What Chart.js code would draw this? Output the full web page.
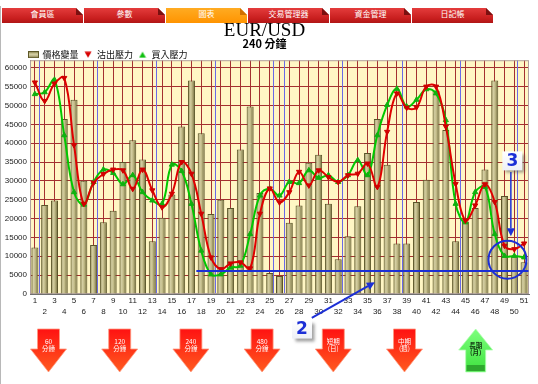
<!DOCTYPE html>
<html>
<head>
<meta charset="utf-8">
<script src="https://cdn.jsdelivr.net/npm/chart.js@4.4.1/dist/chart.umd.min.js"></script>
<style>
html,body{margin:0;padding:0;background:#fff;width:538px;height:384px;overflow:hidden;}
#wrap{position:relative;width:538px;height:384px;}
#c{position:absolute;left:0;top:0;}
#edge{position:absolute;left:0;top:6px;width:1px;height:378px;background:#b8b8b8;}
.tabs{position:absolute;top:8px;left:2px;height:15px;display:flex;}
.tab{position:relative;width:81px;margin-right:1px;height:15px;line-height:15px;text-align:center;color:#fff;
 font:8px "Noto Sans CJK TC","Noto Sans CJK SC",sans-serif;background:linear-gradient(#e43c3c,#c81e1e 70%,#b01616);
 clip-path:polygon(0 0,calc(100% - 7px) 0,100% 7px,100% 100%,0 100%);}
.tab::after{content:"";position:absolute;right:0;top:0;width:7px;height:7px;background:#7a1010;}
.tab.on{background:linear-gradient(#ffab22,#ff9400);}
.tab.on::after{background:#d07000;}
#arrows{position:absolute;left:0;top:320px;}
</style>
</head>
<body>
<div id="wrap">
<canvas id="c" width="538" height="384"></canvas>
<div id="edge"></div>
<div class="tabs">
<div class="tab">會員區</div><div class="tab">參數</div><div class="tab on">圖表</div><div class="tab">交易管理器</div><div class="tab">資金管理</div><div class="tab">日記帳</div>
</div>
<svg id="arrows" width="538" height="64" xmlns="http://www.w3.org/2000/svg"></svg>
</div>
<script>
// ---------- data ----------
const categories = ['1','2','3','4','5','6','7','8','9','10','11','12','13','14','15','16','17','18','19','20',
 '21','22','23','24','25','26','27','28','29','30','31','32','33','34','35','36','37','38','39','40',
 '41','42','43','44','45','46','47','48','49','50','51'];

const priceVolume = [12300,23600,24800,46400,51500,30000,13000,19000,22100,35000,
 40800,35700,14000,20200,26400,44400,56600,42600,21200,25000,
 22800,38300,49700,26800,5600,4800,18900,23500,34800,36900,
 23900,9200,15300,23300,37400,46400,34300,13400,13400,24400,
 30300,53900,43500,14000,19200,22800,33000,56600,26000,10000,8400];

const sellPressure = [56100,51200,55800,57300,39500,23900,29500,31800,33000,32800,
 27900,33000,27500,23000,26600,35000,31900,21300,9700,6600,
 8100,8400,6800,21300,28000,24300,27000,32400,28800,32800,
 31000,29700,31500,31900,34600,28400,43000,53200,49400,49500,
 55000,55000,44400,29200,19500,23500,29100,24400,12800,11900,13400];

const buyPressure = [53000,53500,56800,42100,27000,23700,29700,33000,32100,29100,
 31500,27000,24800,23900,34300,32600,23900,11500,5200,5200,
 7000,7500,15900,26100,27900,26100,29700,29400,32800,30800,
 31500,29700,31500,35500,31500,42100,50100,54400,49700,51500,
 54300,53200,46100,23900,19000,27000,28400,15900,10100,10100,9700];

const yTickValues = [0,5000,10000,15000,20000,25000,30000,35000,40000,45000,50000,55000,60000];
const seriesNames = ['價格變量','沽出壓力','買入壓力'];
const chartTitle = 'EUR/USD';
const chartSubtitle = '240 分鐘';
const dayMarks = [1.4,7.35,13.35,19.4,25.3,26.5,32.4,38.5,44.4,50.3];
const periodLabels = [['60','分鐘'],['120','分鐘'],['240','分鐘'],['480','分鐘'],['短期','(日)'],['中期','(週)'],['長期','(月)']];
const periodTrend = ['down','down','down','down','down','down','up'];

// annotation anchors (category position, value)
const supportLine = {from:17.5, to:51.45, value:6100};
const circleMark = {at:49.3, value:9100, r:19};
const label3 = {at:49.8, value:35300, text:'3', tipValue:15300};
const label2 = {at:28.3, value:-9300, text:'2', tailAt:29.3, tailValue:-6300, tipAt:35.75, tipValue:3100};

// ---------- helpers ----------
const CJK = '"Noto Sans CJK TC","Noto Sans CJK SC",sans-serif';
function icon(w,h,draw){const cv=document.createElement('canvas');cv.width=w;cv.height=h;draw(cv.getContext('2d'),w,h);return cv;}
const barIcon = icon(11,7,(g,w,h)=>{const gr=g.createLinearGradient(0,0,0,h);gr.addColorStop(0,'#a39c62');gr.addColorStop(0.5,'#d6d0a6');gr.addColorStop(1,'#7b743f');g.fillStyle=gr;g.fillRect(0,0,w,h);g.strokeStyle='#5e5828';g.strokeRect(0.5,0.5,w-1,h-1);});
const downIcon = icon(8,7,(g)=>{g.fillStyle='#d80000';g.beginPath();g.moveTo(0.5,0.5);g.lineTo(7.5,0.5);g.lineTo(4,6.5);g.closePath();g.fill();});
const upIcon = icon(8,7,(g)=>{g.fillStyle='#10c010';g.beginPath();g.moveTo(4,0.5);g.lineTo(7.5,6.5);g.lineTo(0.5,6.5);g.closePath();g.fill();});
const legendIcons=[barIcon,downIcon,upIcon];

const bgPlugin = {
 id:'bgPlugin',
 beforeLayout(chart){const lg=chart.legend;if(lg&&!lg.__trim){const f=lg.fit;lg.fit=function(){f.call(this);if(this.isHorizontal())this.height=Math.max(0,this.height-9);};lg.__trim=true;}},
 afterLayout(chart){if(chart.legend){chart.legend.left=24;}},
 beforeDraw(chart){const {ctx,chartArea:a}=chart;ctx.save();ctx.fillStyle='#fff6c4';ctx.fillRect(a.left,a.top,a.right-a.left,a.bottom-a.top);ctx.restore();},
 beforeDatasetsDraw(chart){
  const {ctx,chartArea:a,scales:{x}}=chart;const step=x.getPixelForValue(1)-x.getPixelForValue(0);
  ctx.save();ctx.strokeStyle='#6a6ae6';ctx.lineWidth=1;
  dayMarks.forEach(m=>{const px=Math.round(x.getPixelForValue(0)+(m-1)*step)+0.5;ctx.beginPath();ctx.moveTo(px,a.top);ctx.lineTo(px,a.bottom);ctx.stroke();});
  ctx.strokeStyle='#b0a0a0';ctx.strokeRect(a.left+0.5,a.top+0.5,a.right-a.left-1,a.bottom-a.top-1);
  ctx.restore();
 },
 afterDraw(chart){
  const {ctx:c,scales:{x,y}}=chart;const step=x.getPixelForValue(1)-x.getPixelForValue(0);
  const px=v=>x.getPixelForValue(0)+(v-1)*step, py=v=>y.getPixelForValue(v);
  const blue='#1c2fd6';
  c.save();
  c.strokeStyle=blue;c.fillStyle=blue;c.lineWidth=2;
  c.beginPath();c.moveTo(px(supportLine.from),py(supportLine.value));c.lineTo(px(supportLine.to),py(supportLine.value));c.stroke();
  c.beginPath();c.arc(px(circleMark.at),py(circleMark.value),circleMark.r,0,Math.PI*2);c.stroke();
  function arrow(x1,y1,x2,y2){const ang=Math.atan2(y2-y1,x2-x1);const L=8,W=4;const bx=x2-L*Math.cos(ang),by=y2-L*Math.sin(ang);
   c.beginPath();c.moveTo(x1,y1);c.lineTo(bx,by);c.stroke();
   c.beginPath();c.moveTo(x2,y2);c.lineTo(bx+W*Math.sin(ang),by-W*Math.cos(ang));c.lineTo(bx-W*Math.sin(ang),by+W*Math.cos(ang));c.closePath();c.fill();}
  function box(cx,cy,t){const w=20,h=19;c.save();c.shadowColor='rgba(80,80,80,0.55)';c.shadowOffsetX=3;c.shadowOffsetY=3;c.shadowBlur=3;
   const g=c.createLinearGradient(0,cy-h/2,0,cy+h/2);g.addColorStop(0,'#ffffff');g.addColorStop(1,'#eef0f6');c.fillStyle=g;c.fillRect(cx-w/2,cy-h/2,w,h);c.restore();
   c.fillStyle=blue;c.font='bold 17px "DejaVu Sans",sans-serif';c.textAlign='center';c.textBaseline='middle';c.fillText(t,cx,cy+1);}
  const x3=px(label3.at),y3=py(label3.value);
  c.lineWidth=1.5;arrow(x3-1.5,y3+11,x3-1.5,py(label3.tipValue));
  box(x3,y3,label3.text);
  c.strokeStyle=blue;c.fillStyle=blue;c.lineWidth=2;
  arrow(px(label2.tailAt),py(label2.tailValue),px(label2.tipAt),py(label2.tipValue));
  box(px(label2.at),py(label2.value),label2.text);
  c.restore();
 }
};

const ctx=document.getElementById('c').getContext('2d');
const chart=new Chart(ctx,{
 type:'bar',
 data:{labels:categories,datasets:[
  {type:'bar',label:seriesNames[0],data:priceVolume,order:2,
   backgroundColor(cx){const ch=cx.chart;const xs=ch.scales&&ch.scales.x;if(!ch.chartArea||!xs)return '#bdb682';
    const cxp=xs.getPixelForValue(cx.dataIndex);const w=(xs.getPixelForValue(1)-xs.getPixelForValue(0))*0.36;
    const g=ch.ctx.createLinearGradient(cxp-w,0,cxp+w,0);g.addColorStop(0,'#6f6935');g.addColorStop(0.3,'#d4cea2');g.addColorStop(0.55,'#c2bb88');g.addColorStop(1,'#666032');return g;},
   borderColor:'#5a5428',borderWidth:1,barPercentage:0.72,categoryPercentage:1},
  {type:'line',label:seriesNames[1],data:sellPressure,order:0,borderColor:'#e00000',borderWidth:2,tension:0.4,
   pointStyle:'triangle',rotation:180,pointRadius:3,pointBackgroundColor:'#d00000',pointBorderColor:'#d00000',pointBorderWidth:1},
  {type:'line',label:seriesNames[2],data:buyPressure,order:1,borderColor:'#00c800',borderWidth:2,tension:0.4,
   pointStyle:'triangle',pointRadius:3,pointBackgroundColor:'#10b010',pointBorderColor:'#10b010',pointBorderWidth:1}
 ]},
 options:{
  responsive:false,animation:false,devicePixelRatio:1,
  layout:{padding:{top:23,left:0,right:9,bottom:65}},
  plugins:{
   title:{display:true,text:chartTitle,color:'#000',font:{family:'"Liberation Serif",serif',size:19,weight:'normal',lineHeight:0.8},padding:{top:0,bottom:0}},
   subtitle:{display:true,text:chartSubtitle,color:'#000',font:{family:CJK,size:11,weight:'bold',lineHeight:1},padding:{top:0,bottom:-4}},
   legend:{align:'start',labels:{usePointStyle:true,padding:5,color:'#111',font:{family:CJK,size:9},
    sort:(a,b)=>a.datasetIndex-b.datasetIndex,
    generateLabels(ch){return Chart.defaults.plugins.legend.labels.generateLabels(ch).map(it=>{it.pointStyle=legendIcons[it.datasetIndex];it.rotation=0;return it;});}}},
   tooltip:{enabled:false}
  },
  scales:{
   x:{grid:{offset:false,color:'#a33030',lineWidth:1,drawTicks:false},border:{color:'#707070'},
    ticks:{autoSkip:false,maxRotation:0,minRotation:0,padding:1,color:'#222',font:{family:'"Liberation Sans",sans-serif',size:8,lineHeight:1.38},
     callback(v,i){return i%2===0?categories[i]:['',categories[i]];}},
    afterFit(s){s.height=25;}},
   y:{min:0,max:62000,grid:{color:'#a33030',lineWidth:1,drawTicks:false},border:{color:'#707070'},
    ticks:{stepSize:5000,padding:3,color:'#222',font:{family:'"Liberation Sans",sans-serif',size:8},callback:v=>String(v)},
    afterBuildTicks(s){s.ticks=yTickValues.map(v=>({value:v}));},
    afterFit(s){s.width=30;}}
  }
 },
 plugins:[bgPlugin]
});

// ---------- period arrows (HTML/SVG) ----------
const svg=document.getElementById('arrows');
let html='<defs><linearGradient id="rg" x1="0" y1="0" x2="0" y2="1"><stop offset="0" stop-color="#ff1212"/><stop offset="1" stop-color="#ff5a1e"/></linearGradient>'+
 '<linearGradient id="gg" x1="0" y1="0" x2="0" y2="1"><stop offset="0" stop-color="#7dff7d"/><stop offset="1" stop-color="#3ee23e"/></linearGradient></defs>';
const top0=320;
periodLabels.forEach((lab,i)=>{
 const cx=48.5+i*71.2;const y=v=>v-top0;
 if(periodTrend[i]==='down'){
  html+=`<path d="M${cx-11},${y(329)} H${cx+11} V${y(349)} H${cx+18} L${cx},${y(372)} L${cx-18},${y(349)} H${cx-11} Z" fill="url(#rg)" stroke="#ff9a80" stroke-width="0.8"/>`;
  html+=`<text x="${cx}" y="${y(343.8)}" font-size="6.5" fill="#fff" text-anchor="middle" font-family='Noto Sans CJK TC'>${lab[0]}</text>`;
  html+=`<text x="${cx}" y="${y(350.5)}" font-size="6.5" fill="#fff" text-anchor="middle" font-family='Noto Sans CJK TC'>${lab[1]}</text>`;
 }else{
  html+=`<path d="M${cx},${y(329)} L${cx+17},${y(350)} H${cx+10} V${y(372)} H${cx-10} V${y(350)} H${cx-17} Z" fill="url(#gg)" stroke="#b0ffb0" stroke-width="0.8"/>`;
  html+=`<rect x="${cx-9}" y="${y(365)}" width="18" height="6" fill="#2ea82e"/>`;
  html+=`<text x="${cx}" y="${y(347.5)}" font-size="6.5" fill="#113311" text-anchor="middle" font-family='Noto Sans CJK TC' font-weight="bold">${lab[0]}</text>`;
  html+=`<text x="${cx}" y="${y(354.5)}" font-size="6.5" fill="#113311" text-anchor="middle" font-family='Noto Sans CJK TC' font-weight="bold">${lab[1]}</text>`;
 }
});
svg.innerHTML=html;
</script>
</body>
</html>
